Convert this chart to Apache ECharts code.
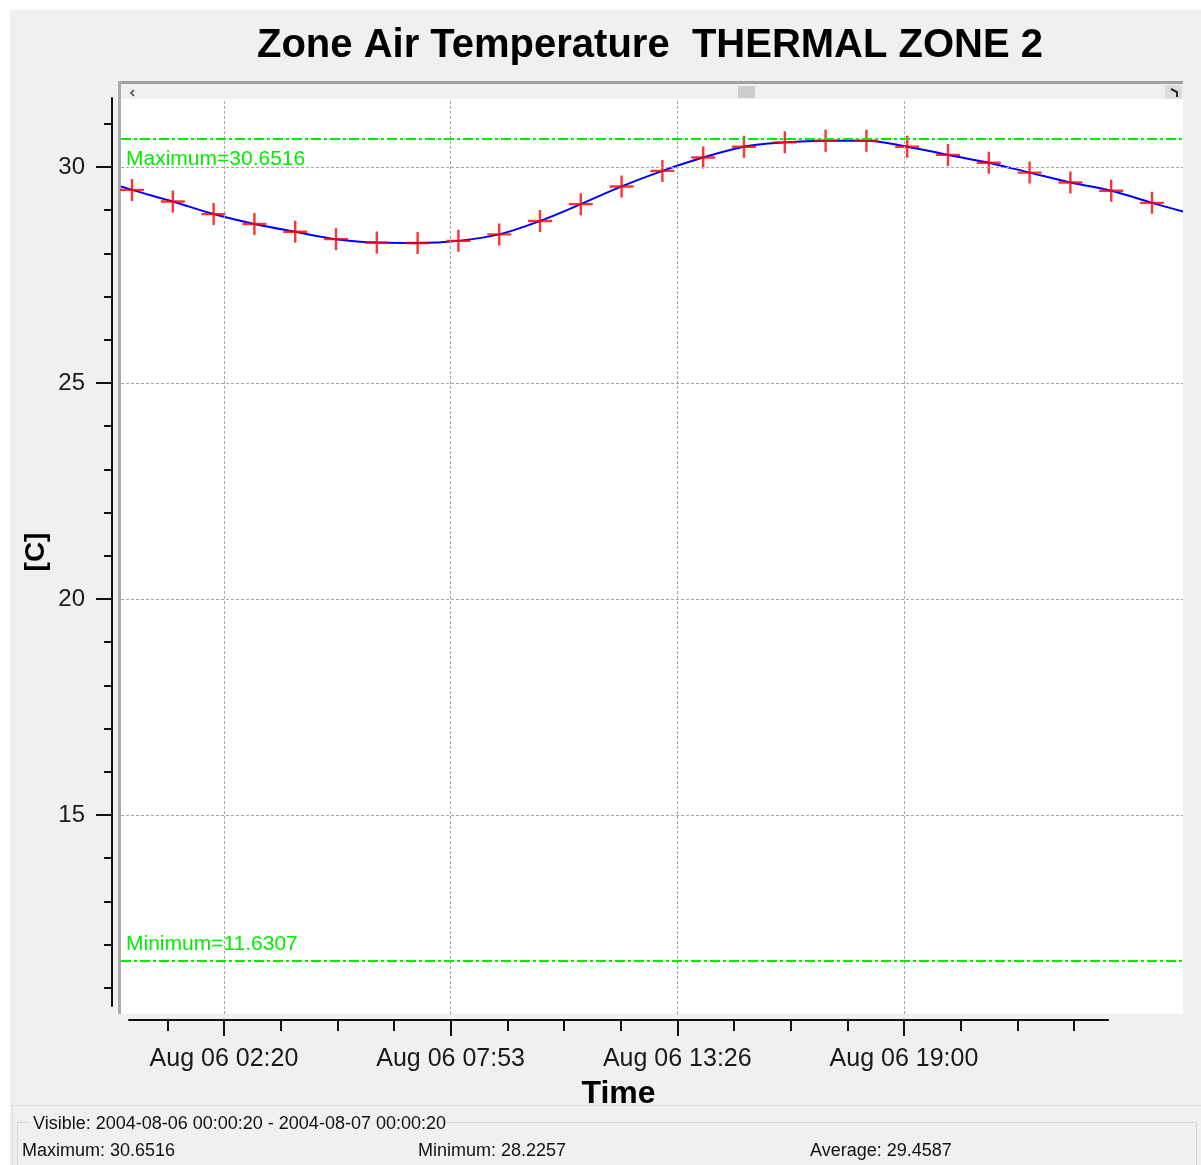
<!DOCTYPE html>
<html>
<head>
<meta charset="utf-8">
<title>Zone Air Temperature THERMAL ZONE 2</title>
<script src="https://cdn.jsdelivr.net/npm/echarts@6/dist/echarts.min.js"></script>
<style>
  html, body { margin: 0; padding: 0; background: #f0f0f0; }
  #chart { width: 1201px; height: 1165px; }
</style>
</head>
<body>
<div id="chart"></div>
<script>
// Hourly samples: hours after 2004-08-06 00:00, zone air temperature [C]
const sampleHours = [0.08, 1.08, 2.08, 3.08, 4.08, 5.08, 6.08, 7.08, 8.08, 9.08,
                     10.08, 11.08, 12.08, 13.08, 14.08, 15.08, 16.08, 17.08, 18.08, 19.08,
                     20.08, 21.08, 22.08, 23.08, 24.08, 25.08];
const zoneTemp = [29.47, 29.20, 28.91, 28.68, 28.50, 28.33, 28.25, 28.24, 28.29, 28.44,
                  28.75, 29.14, 29.55, 29.91, 30.22, 30.47, 30.57, 30.61, 30.61, 30.47,
                  30.28, 30.10, 29.87, 29.64, 29.45, 29.17];
// Curve values where it meets the left and right plot edges
const curveStart = [-0.19, 29.55];
const curveEnd = [25.84, 28.97];

// Reference lines drawn across the plot
const refNames = ['Maximum', 'Minimum'];
const refValues = [30.6516, 11.6307];

// Axis ticks
const yMajorTicks = [15, 20, 25, 30];
const yMinorTicks = [11, 12, 13, 14, 16, 17, 18, 19, 21, 22, 23, 24, 26, 27, 28, 29, 31];
const dayLabel = 'Aug 06';
const timeTickLabels = ['02:20:00', '07:53:20', '13:26:40', '19:00:00'];

// Status panel
const visibleRange = ['2004-08-06 00:00:20', '2004-08-07 00:00:20'];
const summaryNames = ['Maximum', 'Minimum', 'Average'];
const summaryValues = ['30.6516', '28.2257', '29.4587'];

// ---- layout ----
const FONT = "'Liberation Sans', Arial, sans-serif";
const PLOT = { left: 121, top: 99, width: 1062, height: 915 };
const X_EXTENT = [-0.19, 25.84];
const Y_EXTENT = [10.394, 31.574];
const Y_AXIS_SPAN = [98, 1006];   // pixel extent of the value axis line
const X_AXIS_Y = 1020;            // pixel row of the time axis line

function hmsToHours(s) {
  const p = s.split(':').map(Number);
  return p[0] + p[1] / 60 + p[2] / 3600;
}
const visStart = hmsToHours(visibleRange[0].slice(11));
const visEnd = 24 + hmsToHours(visibleRange[1].slice(11));

const majorHours = timeTickLabels.map(hmsToHours);
const minorStep = (majorHours[1] - majorHours[0]) / 4;
const minorHours = [];
for (let k = -Math.floor((majorHours[0] - visStart) / minorStep); ; k++) {
  const v = majorHours[0] + k * minorStep;
  if (v >= visEnd) break;
  if (((k % 4) + 4) % 4 !== 0) minorHours.push(v);
}

// pixel <-> value helpers for placing the separate axis grids on the plot scale
const xPx = v => PLOT.left + (v - X_EXTENT[0]) / (X_EXTENT[1] - X_EXTENT[0]) * PLOT.width;
const yVal = py => Y_EXTENT[1] - (py - PLOT.top) / PLOT.height * (Y_EXTENT[1] - Y_EXTENT[0]);

const xAxisLeft = xPx(visStart);
const xAxisRight = xPx(visEnd);

const curve = [curveStart].concat(sampleHours.map((h, i) => [h, zoneTemp[i]]), [curveEnd]);
const markers = sampleHours.map((h, i) => [h, zoneTemp[i]]);

const gridLineStyle = { color: '#a6a6a6', width: 1, type: [3, 2] };
const gridLines = yMajorTicks.map(v => ({ yAxis: v, lineStyle: gridLineStyle }))
  .concat(majorHours.map(v => ({ xAxis: v, lineStyle: gridLineStyle })));

const refLines = refNames.map((name, i) => ({
  name: name,
  yAxis: refValues[i],
  lineStyle: { color: '#00ee00', width: 2, type: [10, 3, 3, 3] },
  label: {
    show: true,
    position: i === 0 ? 'insideStartBottom' : 'insideStartTop',
    distance: i === 0 ? [5, 10] : [5, 6],
    formatter: p => p.name + '=' + refValues[i],
    color: '#00ee00',
    fontFamily: FONT,
    fontSize: 21
  }
}));

function timeLabel(v) {
  for (let i = 0; i < majorHours.length; i++) {
    if (Math.abs(majorHours[i] - v) < 1e-6) return dayLabel + ' ' + timeTickLabels[i].slice(0, 5);
  }
  return '';
}

const chart = echarts.init(document.getElementById('chart'), null, { renderer: 'canvas' });

const panelText = (text, x, y) => ({
  type: 'text', x: x, y: y, z: 1,
  style: { text: text, font: '18px ' + FONT, fill: '#111', verticalAlign: 'middle' }
});
const rect = (x, y, w, h, fill) => ({ type: 'rect', z: 0, shape: { x: x, y: y, width: w, height: h }, style: { fill: fill } });
const line = (x1, y1, x2, y2, stroke) => ({ type: 'line', z: 0, shape: { x1: x1, y1: y1, x2: x2, y2: y2 }, style: { stroke: stroke, lineWidth: 1 } });
const hiddenAxis = (gridIndex) => ({ type: 'value', gridIndex: gridIndex, min: 0, max: 1, show: false });

chart.setOption({
  animation: false,
  backgroundColor: '#f0f0f0',
  graphic: [
    rect(0, 0, 1201, 10, '#ffffff'),
    rect(0, 0, 10, 1165, '#ffffff'),
    rect(PLOT.left, PLOT.top, PLOT.width, PLOT.height, '#ffffff'),
    // frame and scroll strip above the plot
    rect(118, 81, PLOT.width + 3, 3, '#a2a2a2'),
    rect(118, 81, 3, PLOT.top + PLOT.height - 81, '#ababab'),
    rect(PLOT.left, 84, PLOT.width, 15, '#f0f0f0'),
    rect(738, 86, 17, 12, '#cdcdcd'),
    rect(1165, 85, 17, 14, '#dcdcdc'),
    { type: 'polyline', z: 1, shape: { points: [[134, 90], [131, 93], [134, 96]] }, style: { stroke: '#444', lineWidth: 1.5, fill: null } },
    { type: 'polyline', z: 1, shape: { points: [[1171, 89], [1177, 92], [1177, 97]] }, style: { stroke: '#222', lineWidth: 2, fill: null } },
    // status panel
    line(10, 1105.5, 1201, 1105.5, '#dedede'),
    line(12.5, 1105, 12.5, 1165, '#dedede'),
    line(18, 1122.5, 30, 1122.5, '#d6d6d6'),
    line(446, 1122.5, 1196, 1122.5, '#d6d6d6'),
    line(17.5, 1122, 17.5, 1165, '#d6d6d6'),
    line(1196.5, 1122, 1196.5, 1165, '#d6d6d6'),
    panelText('Visible: ' + visibleRange[0] + ' - ' + visibleRange[1], 33, 1124),
    panelText(summaryNames[0] + ': ' + summaryValues[0], 22, 1151),
    panelText(summaryNames[1] + ': ' + summaryValues[1], 418, 1151),
    panelText(summaryNames[2] + ': ' + summaryValues[2], 810, 1151),
    {
      type: 'text', x: 650, y: 46, z: 1,
      style: { text: 'Zone Air Temperature  THERMAL ZONE 2', font: 'bold 40px ' + FONT, fill: '#000', align: 'center', verticalAlign: 'middle' }
    }
  ],
  grid: [
    { left: PLOT.left, top: PLOT.top, width: PLOT.width, height: PLOT.height, show: false },
    { left: 112, top: Y_AXIS_SPAN[0], width: 1, height: Y_AXIS_SPAN[1] - Y_AXIS_SPAN[0], show: false },
    { left: xAxisLeft, top: X_AXIS_Y - 20, width: xAxisRight - xAxisLeft, height: 20, show: false }
  ],
  xAxis: [
    { type: 'value', gridIndex: 0, min: X_EXTENT[0], max: X_EXTENT[1], show: false },
    hiddenAxis(1),
    {
      type: 'value', gridIndex: 2, min: visStart, max: visEnd, position: 'bottom',
      axisLine: { show: true, lineStyle: { color: '#111', width: 2 } },
      axisTick: { show: true, customValues: majorHours, length: 16, lineStyle: { color: '#111', width: 2 } },
      axisLabel: { show: true, customValues: majorHours, formatter: timeLabel, margin: 27, fontSize: 25, fontFamily: FONT, color: '#1a1a1a' },
      splitLine: { show: false },
      name: 'Time', nameLocation: 'middle', nameGap: 58,
      nameTextStyle: { fontSize: 32, fontWeight: 'bold', fontFamily: FONT, color: '#000' }
    },
    {
      type: 'value', gridIndex: 2, min: visStart, max: visEnd, position: 'bottom',
      axisLine: { show: false },
      axisTick: { show: true, customValues: minorHours, length: 11, lineStyle: { color: '#111', width: 2 } },
      axisLabel: { show: false },
      splitLine: { show: false }
    }
  ],
  yAxis: [
    { type: 'value', gridIndex: 0, min: Y_EXTENT[0], max: Y_EXTENT[1], show: false },
    {
      type: 'value', gridIndex: 1, position: 'left',
      min: yVal(Y_AXIS_SPAN[1]), max: yVal(Y_AXIS_SPAN[0]),
      axisLine: { show: true, lineStyle: { color: '#111', width: 2 } },
      axisTick: { show: true, customValues: yMajorTicks, length: 16, lineStyle: { color: '#111', width: 2 } },
      axisLabel: { show: true, customValues: yMajorTicks, margin: 27, fontSize: 24, fontFamily: FONT, color: '#1a1a1a' },
      splitLine: { show: false },
      name: '[C]', nameLocation: 'middle', nameGap: 62,
      nameTextStyle: { fontSize: 28, fontWeight: 'bold', fontFamily: FONT, color: '#000' }
    },
    {
      type: 'value', gridIndex: 1, position: 'left',
      min: yVal(Y_AXIS_SPAN[1]), max: yVal(Y_AXIS_SPAN[0]),
      axisLine: { show: false },
      axisTick: { show: true, customValues: yMinorTicks, length: 8, lineStyle: { color: '#111', width: 2 } },
      axisLabel: { show: false },
      splitLine: { show: false }
    },
    hiddenAxis(2)
  ],
  series: [
    {
      name: 'gridlines', type: 'line', xAxisIndex: 0, yAxisIndex: 0, data: [], z: 1, silent: true,
      markLine: { silent: true, symbol: 'none', label: { show: false }, data: gridLines, animation: false }
    },
    {
      name: 'limits', type: 'line', xAxisIndex: 0, yAxisIndex: 0, data: [], z: 2, silent: true,
      markLine: { silent: true, symbol: 'none', precision: 4, data: refLines, animation: false }
    },
    {
      name: 'THERMAL ZONE 2', type: 'line', xAxisIndex: 0, yAxisIndex: 0, data: curve, z: 3,
      smooth: 0.35, showSymbol: false, lineStyle: { color: '#0000ff', width: 2 }
    },
    {
      name: 'samples', type: 'scatter', xAxisIndex: 0, yAxisIndex: 0, data: markers, z: 4,
      symbol: 'path://M0,9.8H24V12.2H0Z M10.8,0H13.2V22H10.8Z', symbolSize: [24, 22],
      itemStyle: { color: '#ff0000' }
    }
  ]
});
</script>
</body>
</html>
